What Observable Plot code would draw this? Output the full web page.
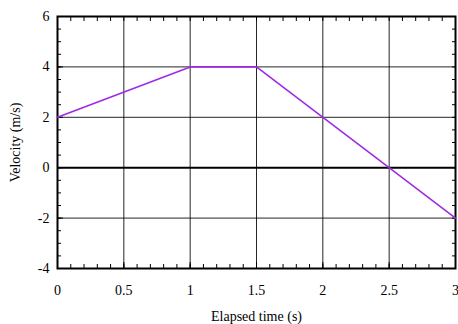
<!DOCTYPE html>
<html><head><meta charset="utf-8">
<script src="https://cdn.jsdelivr.net/npm/d3@7"></script>
<script src="https://cdn.jsdelivr.net/npm/@observablehq/plot@0.6"></script>
<style>body{margin:0;background:#fff}</style>
</head><body><div id="chart"></div>
<script>
const times = [0, 1, 1.5, 3];
const velocity = [2, 4, 4, -2];
const xTicks = [0, 0.5, 1, 1.5, 2, 2.5, 3];
const xTickLabels = ["0", "0.5", "1", "1.5", "2", "2.5", "3"];
const yTicks = [-4, -2, 0, 2, 4, 6];
const yTickLabels = ["-4", "-2", "0", "2", "4", "6"];
const xMinor = d3.range(0, 31).map(i => i / 10);
const yMinor = d3.range(-8, 13).map(i => i / 2);

const data = times.map((t, i) => ({t, v: velocity[i]}));
const font = "Liberation Serif, Times New Roman, serif";

const chart = Plot.plot({
  width: 458, height: 324,
  marginLeft: 57, marginRight: 3, marginTop: 16, marginBottom: 56,
  style: {fontFamily: font, fontSize: "14px", color: "#000", background: "#fff"},
  x: {domain: [0, 3]},
  y: {domain: [-4, 6]},
  marks: [
    Plot.ruleX(xTicks.slice(1, -1), {stroke: "#000", strokeWidth: 1, strokeOpacity: 0.85}),
    Plot.ruleY(yTicks.filter(d => d !== 0 && d !== -4 && d !== 6), {stroke: "#000", strokeWidth: 1, strokeOpacity: 0.85}),
    Plot.ruleY([0], {stroke: "#000", strokeWidth: 2}),
    Plot.axisX({anchor: "bottom", ticks: xMinor, tickSize: -4, label: null, text: null}),
    Plot.axisX({anchor: "top", ticks: xMinor, tickSize: -4, label: null, text: null}),
    Plot.axisY({anchor: "left", ticks: yMinor, tickSize: -4, label: null, text: null}),
    Plot.axisY({anchor: "right", ticks: yMinor, tickSize: -4, label: null, text: null}),
    Plot.axisX({anchor: "bottom", ticks: xTicks, tickSize: -6, tickPadding: 23,
      tickFormat: (d, i) => xTickLabels[i], label: "Elapsed time (s)", labelAnchor: "center", labelArrow: "none", labelOffset: 52, fontSize: 14}),
    Plot.axisY({anchor: "left", ticks: yTicks, tickSize: -6, tickPadding: 14,
      tickFormat: (d, i) => yTickLabels[i], label: "Velocity (m/s)", labelAnchor: "center", labelArrow: "none", labelOffset: 47, fontSize: 14}),
    Plot.frame({stroke: "#000", strokeWidth: 2}),
    Plot.line(data, {x: "t", y: "v", stroke: "#9f2ae6", strokeWidth: 1.6})
  ]
});
document.getElementById("chart").appendChild(chart);
</script></body></html>
